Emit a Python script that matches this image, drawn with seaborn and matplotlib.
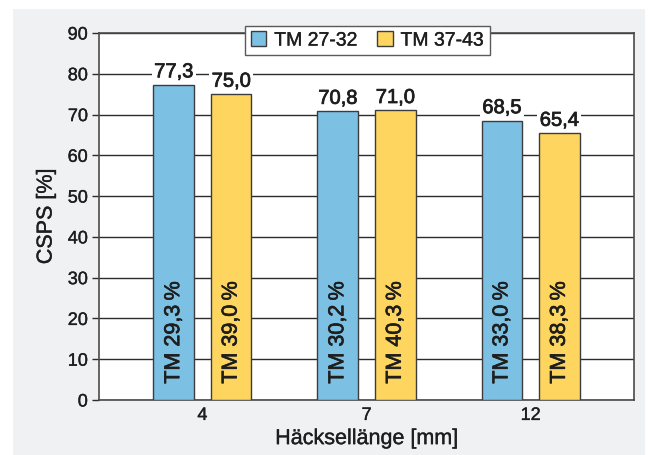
import matplotlib
matplotlib.use("Agg")
import matplotlib.pyplot as plt
import matplotlib.patheffects as pe
from matplotlib.patches import Rectangle
import pandas as pd
import seaborn as sns

# Chop length categories and the two dry-matter classes
lengths = ["4", "7", "12"]
series = ["TM 27-32", "TM 37-43"]
csps_low = [77.3, 70.8, 68.5]
csps_high = [75.0, 71.0, 65.4]
tm_low = [29.3, 30.2, 33.0]
tm_high = [39.0, 40.3, 38.3]

colors = ["#7CC1E4", "#FDD55F"]
grid_col = "#2b2b2b"
text_col = "#1e1e1e"


def heavy(w):
    # slightly thicker glyphs, closer to a medium-weight grotesque
    return [pe.withStroke(linewidth=w, foreground=text_col)]


df = pd.DataFrame({
    "Häcksellänge": lengths * 2,
    "CSPS": csps_low + csps_high,
    "Serie": [series[0]] * 3 + [series[1]] * 3,
})

sns.set_theme(style="white")
plt.rcParams["font.family"] = ["Liberation Sans", "DejaVu Sans"]

fig = plt.figure(figsize=(6.54, 4.55), dpi=100, facecolor="white")
# light grey panel behind the chart
panel = Rectangle((13 / 654, 0), (645 - 13) / 654, 446 / 455,
                  transform=fig.transFigure, facecolor="#F0F1F3",
                  edgecolor="none", zorder=-10)
fig.add_artist(panel)

ax = fig.add_axes([99 / 654, 1 - 400 / 455, (634 - 99) / 654, (400 - 33) / 455])
ax.set_facecolor("white")

sns.barplot(data=df, x="Häcksellänge", y="CSPS", hue="Serie", order=lengths,
            hue_order=series, palette=colors, width=0.7, gap=0.29,
            edgecolor="#3c3c3c", linewidth=1.0, saturation=1, ax=ax, zorder=3)

ax.set_ylim(0, 90)
ax.set_xlim(-0.63, 2.63)
ax.set_yticks(range(0, 91, 10))
ax.yaxis.grid(True, color=grid_col, linewidth=1.0, zorder=0)
ax.xaxis.grid(False)
ax.set_axisbelow(True)

for s in ax.spines.values():
    s.set_color("#4a4a4a")
    s.set_linewidth(1.2)
    s.set_visible(True)

ax.tick_params(axis="y", which="both", left=True, length=5, width=1.0,
               color=grid_col, labelsize=13, labelcolor=text_col, pad=3)
ax.tick_params(axis="x", length=0, labelsize=13, labelcolor=text_col, pad=5)
for lab in ax.get_xticklabels() + ax.get_yticklabels():
    lab.set_path_effects(heavy(0.25))

ax.set_xlabel("Häcksellänge [mm]", fontsize=15.5, color=text_col, labelpad=3)
ax.set_ylabel("CSPS [%]", fontsize=15.5, color=text_col, labelpad=8)
ax.xaxis.label.set_path_effects(heavy(0.25))
ax.yaxis.label.set_path_effects(heavy(0.25))

tm_vals = [tm_low, tm_high]
for cont, tms in zip(ax.containers, tm_vals):
    for bar, tm in zip(cont, tms):
        cx = bar.get_x() + bar.get_width() / 2
        h = bar.get_height()
        ax.annotate(f"{h:.1f}".replace(".", ","), (cx, h), xytext=(0, 2.5),
                    textcoords="offset points", ha="center", va="bottom",
                    fontsize=14.5, color=text_col, zorder=5,
                    path_effects=heavy(0.55),
                    bbox=dict(boxstyle="square,pad=0.12", facecolor="white",
                              edgecolor="none"))
        ax.text(cx, 4.0, f"TM {tm:.1f}\u2009%".replace(".", ","), rotation=90,
                ha="center", va="bottom", fontsize=15.5, color=text_col,
                zorder=5, path_effects=heavy(0.5))

leg = ax.legend(loc="center", bbox_to_anchor=(367.5 / 654, 1 - 40.5 / 455),
                bbox_transform=fig.transFigure, ncol=2, frameon=True,
                fancybox=False, fontsize=14, handlelength=0.8,
                handleheight=0.8, handletextpad=0.4, columnspacing=1.0,
                borderpad=0.3, title=None)
leg.get_frame().set_edgecolor("#5a5a5a")
leg.get_frame().set_linewidth(1.0)
leg.get_frame().set_facecolor("white")
leg.get_frame().set_alpha(1)
leg.set_zorder(10)
for t in leg.get_texts():
    t.set_color(text_col)
    t.set_path_effects(heavy(0.25))

fig.savefig("out.png", dpi=100)
